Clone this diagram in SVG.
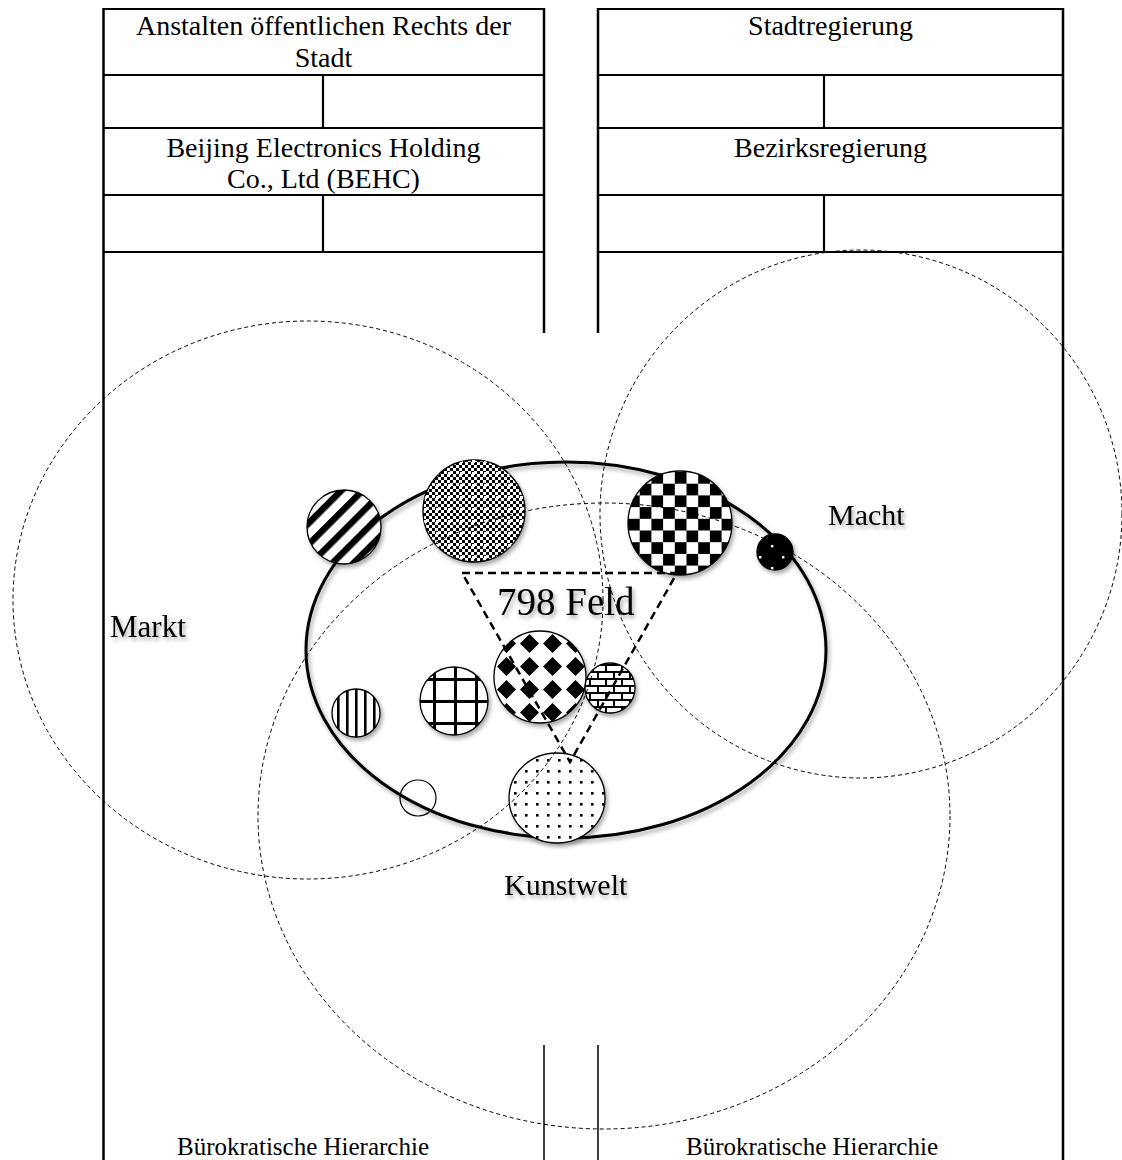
<svg xmlns="http://www.w3.org/2000/svg" width="1122" height="1160" viewBox="0 0 1122 1160">
<style>
.frame{stroke:#000;stroke-width:2.5;fill:none}
.tl{stroke:#000;stroke-width:2.2;fill:none}
.thin{stroke:#000;stroke-width:1.5;fill:none}
.dc{stroke:#000;stroke-width:1;fill:none;stroke-dasharray:4 3}
.tri{stroke:#000;stroke-width:2.5;fill:none;stroke-dasharray:8 5}
.t{font-family:"Liberation Serif","Times New Roman",serif;fill:#000;text-anchor:middle}
.lab{font-family:"Liberation Serif","Times New Roman",serif;fill:#000;filter:url(#sh)}
.c{stroke:#000;stroke-width:1.3;filter:url(#sh)}
</style>
<defs>
<filter id="sh" x="-30%" y="-30%" width="170%" height="170%">
<feDropShadow dx="2" dy="3" stdDeviation="2" flood-color="#000" flood-opacity="0.35"/>
</filter>
<pattern id="pStripe" width="15" height="15" patternUnits="userSpaceOnUse" patternTransform="rotate(45)">
<rect width="15" height="15" fill="#fff"/><rect width="6.5" height="15" fill="#000"/>
</pattern>
<pattern id="pFine" width="6" height="6" patternUnits="userSpaceOnUse">
<rect width="6" height="6" fill="#fff"/><rect width="3" height="3" fill="#000"/><rect x="3" y="3" width="3" height="3" fill="#000"/>
</pattern>
<pattern id="pFineDots" width="12" height="12" patternUnits="userSpaceOnUse">
<rect x="4" y="4" width="3" height="3" fill="#fff"/>
</pattern>
<pattern id="pCheck" width="23.4" height="23.4" patternUnits="userSpaceOnUse" x="628" y="472">
<rect width="23.4" height="23.4" fill="#fff"/><rect width="11.7" height="11.7" fill="#000"/><rect x="11.7" y="11.7" width="11.7" height="11.7" fill="#000"/>
</pattern>
<pattern id="pVert" width="9" height="10" patternUnits="userSpaceOnUse" x="334">
<rect width="9" height="10" fill="#fff"/><rect x="3" width="2.6" height="10" fill="#000"/>
</pattern>
<pattern id="pGrid" width="21" height="22" patternUnits="userSpaceOnUse" x="424" y="668">
<rect width="21" height="22" fill="#fff"/><rect x="9" width="3" height="22" fill="#000"/><rect y="10" width="21" height="3" fill="#000"/>
</pattern>
<pattern id="pDiam" width="23" height="23" patternUnits="userSpaceOnUse" x="495" y="632">
<rect width="23" height="23" fill="#fff"/><polygon points="11.5,2 21,11.5 11.5,21 2,11.5" fill="#000"/>
</pattern>
<pattern id="pBrick" width="16" height="14" patternUnits="userSpaceOnUse" x="586" y="664">
<rect width="16" height="14" fill="#fff"/>
<rect y="0" width="16" height="2" fill="#000"/><rect y="7" width="16" height="2" fill="#000"/>
<rect x="3" y="0" width="2" height="7" fill="#000"/><rect x="11" y="7" width="2" height="7" fill="#000"/>
</pattern>
<pattern id="pDots" width="11" height="11" patternUnits="userSpaceOnUse" x="510" y="755">
<rect width="11" height="11" fill="#fff"/><rect x="4" y="4" width="2.6" height="2.6" fill="#000"/>
</pattern>
</defs>
<rect width="1122" height="1160" fill="#fff"/>

<g id="frame">
<line class="frame" x1="103.5" y1="8" x2="103.5" y2="1160"/>
<line class="frame" x1="1063" y1="8" x2="1063" y2="1160"/>
<line class="frame" x1="544" y1="8" x2="544" y2="333"/>
<line class="frame" x1="598" y1="8" x2="598" y2="333"/>
<line class="thin" x1="544" y1="1045" x2="544" y2="1160"/>
<line class="thin" x1="598" y1="1045" x2="598" y2="1160"/>
</g>

<g id="left-table">
<line class="tl" x1="103" y1="9" x2="544" y2="9"/>
<line class="tl" x1="103" y1="75" x2="544" y2="75"/>
<line class="tl" x1="103" y1="128" x2="544" y2="128"/>
<line class="tl" x1="103" y1="195" x2="544" y2="195"/>
<line class="tl" x1="103" y1="252" x2="544" y2="252"/>
<line class="tl" x1="323" y1="75" x2="323" y2="128"/>
<line class="tl" x1="323" y1="195" x2="323" y2="252"/>
<text class="t" x="323.5" y="35" font-size="28">Anstalten öffentlichen Rechts der</text>
<text class="t" x="323.5" y="67" font-size="28">Stadt</text>
<text class="t" x="323.5" y="157" font-size="28">Beijing Electronics Holding</text>
<text class="t" x="323.5" y="188" font-size="28">Co., Ltd (BEHC)</text>
</g>

<g id="right-table">
<line class="tl" x1="598" y1="9" x2="1063" y2="9"/>
<line class="tl" x1="598" y1="75" x2="1063" y2="75"/>
<line class="tl" x1="598" y1="128" x2="1063" y2="128"/>
<line class="tl" x1="598" y1="195" x2="1063" y2="195"/>
<line class="tl" x1="598" y1="252" x2="1063" y2="252"/>
<line class="tl" x1="824" y1="75" x2="824" y2="128"/>
<line class="tl" x1="824" y1="195" x2="824" y2="252"/>
<text class="t" x="830.5" y="35" font-size="28">Stadtregierung</text>
<text class="t" x="830.5" y="157" font-size="28">Bezirksregierung</text>
</g>

<g id="field">
<ellipse cx="566" cy="650" rx="260" ry="188" fill="none" stroke="#000" stroke-width="3" filter="url(#sh)"/>
</g>

<g id="agents">
<circle id="a-stripes" class="c" cx="344" cy="527" r="37" fill="url(#pStripe)"/>
<g id="a-fine"><circle class="c" cx="474" cy="511" r="51" fill="url(#pFine)"/><circle cx="474" cy="511" r="51" fill="url(#pFineDots)"/></g>
<circle id="a-check" class="c" cx="680" cy="523" r="52" fill="url(#pCheck)"/>
<g id="a-black"><circle class="c" cx="775" cy="552" r="18" fill="#000"/>
<rect x="771" y="545" width="2.4" height="2.4" fill="#fff"/><rect x="759" y="556" width="2.4" height="2.4" fill="#fff"/><rect x="782" y="556" width="2.4" height="2.4" fill="#fff"/><rect x="771" y="567" width="2.4" height="2.4" fill="#fff"/></g>
<circle id="a-vert" class="c" cx="356" cy="713" r="24" fill="url(#pVert)"/>
<circle id="a-grid" class="c" cx="454" cy="701" r="34" fill="url(#pGrid)"/>
<circle id="a-diam" class="c" cx="540" cy="677" r="46" fill="url(#pDiam)"/>
<circle id="a-brick" class="c" cx="610" cy="688" r="25" fill="url(#pBrick)"/>
<circle id="a-empty" cx="418" cy="798" r="18" fill="none" stroke="#000" stroke-width="1.2"/>
<ellipse id="a-dots" class="c" cx="557" cy="798" rx="48" ry="45" fill="url(#pDots)"/>
</g>

<g id="connectors">
<ellipse id="markt" class="dc" cx="308" cy="600" rx="295" ry="279"/>
<ellipse id="macht" class="dc" cx="861" cy="514" rx="261" ry="264"/>
<ellipse id="kunstwelt" class="dc" cx="604" cy="816" rx="346" ry="313"/>
<polygon class="tri" points="462,573 677,573 570,762"/>
</g>

<g id="labels">
<text class="lab" x="110" y="637" font-size="31">Markt</text>
<text class="lab" x="828" y="525" font-size="30">Macht</text>
<text class="lab" x="504" y="895" font-size="30">Kunstwelt</text>
<text class="lab" x="497" y="615" font-size="39">798 Feld</text>
</g>

<g id="bottom">
<text class="t" x="303" y="1155" font-size="25">Bürokratische Hierarchie</text>
<text class="t" x="812" y="1155" font-size="25">Bürokratische Hierarchie</text>
</g>
</svg>
